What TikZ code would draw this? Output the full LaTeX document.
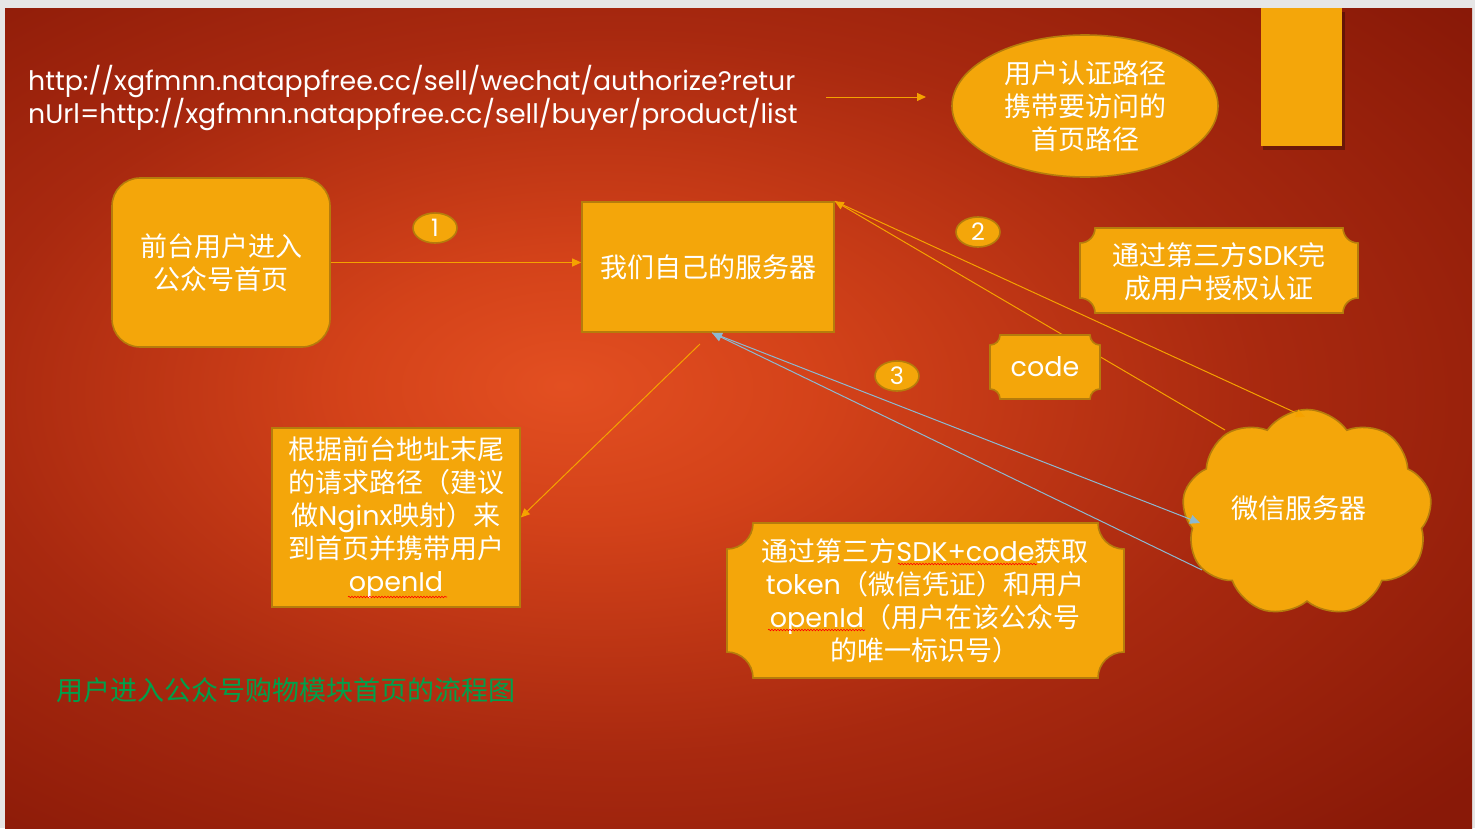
\documentclass[tikz,border=0pt]{standalone}
\usepackage{fontspec}
\setmainfont{Noto Sans CJK SC}
\newfontfamily\lat{Poppins}
\usetikzlibrary{shapes.geometric,shapes.symbols,arrows.meta,decorations.pathmorphing}
\definecolor{gold}{RGB}{244,166,10}
\definecolor{goldline}{RGB}{181,124,12}
\definecolor{arr}{RGB}{245,162,0}
\definecolor{blueline}{RGB}{140,185,210}
\definecolor{ttl}{RGB}{0,160,75}
\definecolor{frame}{RGB}{230,230,230}
\pgfdeclareradialshading{slidebg}{\pgfpoint{-6bp}{2bp}}{rgb(0bp)=(0.89,0.31,0.13); rgb(8bp)=(0.83,0.26,0.10); rgb(22bp)=(0.66,0.16,0.06); rgb(36bp)=(0.54,0.10,0.03); rgb(72bp)=(0.47,0.08,0.02)}
\tikzset{
  txt/.style={text=white, font=\fontsize{27}{33}\selectfont, align=center},
  goldshape/.style={draw=goldline, fill=gold, line width=1.6pt},
  numell/.style={goldshape, ellipse, minimum width=44pt, minimum height=30pt, inner sep=0pt, text=white, font=\lat\fontsize{24}{24}\selectfont},
  plaquestyle/.style={goldshape},
  arrline/.style={draw=arr, line width=1pt, -{Triangle[length=9pt,width=8pt]}},
  blueln/.style={draw=blueline, line width=1pt, -{Triangle[length=10pt,width=9pt]}},
  spell/.style={draw=red, line width=0.6pt, decorate, decoration={snake, amplitude=0.8pt, segment length=3pt}}
}
\newcommand{\plq}[5]{\path[plaquestyle] (#1,{#2+#5}) arc[start angle=90,end angle=0,radius=#5] -- ({#3-#5},#2) arc[start angle=180,end angle=90,radius=#5] -- (#3,{#4-#5}) arc[start angle=270,end angle=180,radius=#5] -- ({#1+#5},#4) arc[start angle=0,end angle=-90,radius=#5] -- cycle;}
\begin{document}
\begin{tikzpicture}[x=1pt,y=-1pt]
\useasboundingbox (0,0) rectangle (1475,828);
% frame and slide background
\fill[frame] (0,0) rectangle (1475,828);
\shade[shading=slidebg] (5,8) rectangle (1472,828);
% tall decorative bar with shadow
\fill[black,opacity=0.3] (1263,12) rectangle (1345,150);
\fill[gold] (1261,8) rectangle (1342,146);
% URL text
\node[anchor=base west, text=white, font=\lat\fontsize{26.8}{33}\selectfont, inner sep=0pt] (url1) at (28,90) {http://xgfmnn.natappfree.cc/sell/wechat/authorize?retur};
\node[anchor=base west, text=white, font=\lat\fontsize{26.8}{33}\selectfont, inner sep=0pt] (url2) at (28,123) {nUrl=http://xgfmnn.natappfree.cc/sell/buyer/product/list};
\coordinate (ua) at (826,97);
\coordinate (ub) at (926,97);
% main nodes
\node[goldshape, ellipse, minimum width=266pt, minimum height=142pt, inner sep=0pt, txt] (auth) at (1085,106) {用户认证路径\\携带要访问的\\首页路径};
\node[goldshape, rounded corners=28pt, minimum width=218pt, minimum height=169pt, txt] (front) at (221,262.5) {前台用户进入\\公众号首页};
\node[goldshape, minimum width=252pt, minimum height=130pt, txt] (server) at (708,267) {我们自己的服务器};
\node[goldshape, minimum width=248pt, minimum height=179pt, inner sep=0pt, txt] (box) at (396,517.5) {根据前台地址末尾\\的请求路径（建议\\做{\lat Nginx}映射）来\\到首页并携带用户\\{\lat openId}};
\node[goldshape, cloud, cloud puffs=9, cloud puff arc=110, aspect=1.2, minimum width=250pt, minimum height=207pt, inner sep=0pt, txt] (wx) at (1307,513) {};
\node[txt] (wxt) at (1299,508) {微信服务器};
\node[numell] (n1) at (435,228) {1};
\node[numell] (n2) at (978,232) {2};
\node[numell] (n3) at (897,376) {3};
% connector end points on the cloud
\coordinate (w1) at (1305,417);
\coordinate (w2) at (1225,430);
\coordinate (w3) at (1200,523);
\coordinate (w4) at (1202,570);
\coordinate (d1) at (700,344);
% connectors
\draw[arrline] (ua) -- (ub);
\draw[arrline] (front.east) -- (front.east -| server.west);
\draw[arrline] (server.north east) -- (w1);
\draw[arrline] (w2) -- (server.north east);
\draw[blueln] ([xshift=4pt]server.south) -- (w3);
\draw[blueln] (w4) -- ([xshift=4pt]server.south);
\draw[arrline] (d1) -- (box.east);
% plaques
\plq{1080}{228}{1358}{313}{15}
\node[txt] (sdk) at (1219,272) {通过第三方{\lat SDK}完\\成用户授权认证};
\plq{990}{335}{1100}{399}{10}
\node[txt, font=\lat\fontsize{27}{33}\selectfont] (code) at (1045,367) {code};
\plq{727}{523}{1124}{678}{26}
\node[txt] (tok) at (925,601) {通过第三方{\lat SDK+code}获取\\{\lat token}（微信凭证）和用户\\{\lat openId}（用户在该公众号\\的唯一标识号）};
% spell-check underlines
\draw[spell] (898,564) -- (1037,564);
\draw[spell] (768,630) -- (865,630);
\draw[spell] (348,597) -- (447,597);
% title
\node[text=ttl, font=\fontsize{27}{33}\selectfont] (title) at (286,690) {用户进入公众号购物模块首页的流程图};
\end{tikzpicture}
\end{document}
